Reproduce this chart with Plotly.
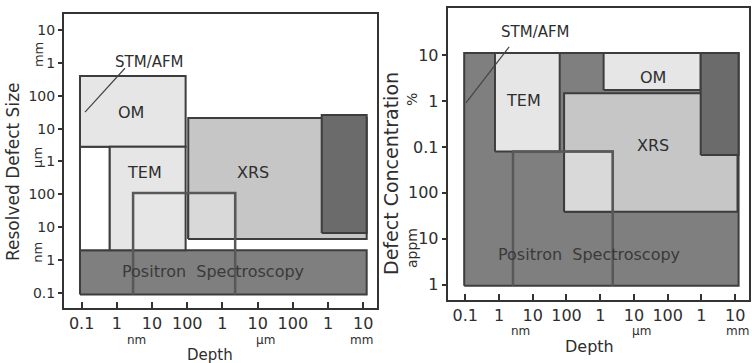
import math
import plotly.graph_objects as go

# ---------------- data ----------------
# Depth axis (m) shared by both panels
depth_tickvals = [1e-10, 1e-9, 1e-8, 1e-7, 1e-6, 1e-5, 1e-4, 1e-3, 1e-2]
depth_ticktext = ["0.1", "1", "10", "100", "1", "10", "100", "1", "10"]
depth_units = ["nm", "\u00b5m", "mm"]

# Left panel: resolved defect size (m)
size_tickvals = [1e-2, 1e-3, 1e-4, 1e-5, 1e-6, 1e-7, 1e-8, 1e-9, 1e-10]
size_ticktext = ["10", "1", "100", "10", "1", "100", "10", "1", "0.1"]
size_units = ["mm", "\u00b5m", "nm"]

left_names = ["Positron", "STM/AFM", "OM", "TEM", "XRS", "XRS-high", "XRS-TEM"]
left_depth_min = [9e-11, 9e-11, 9e-11, 6.3e-10, 1.07e-7, 6.6e-4, 1.07e-7]
left_depth_max = [1.25e-2, 6.3e-10, 9e-8, 9e-8, 1.25e-2, 1.25e-2, 2.3e-6]
left_size_min = [9e-11, 2e-9, 2.8e-6, 2e-9, 4.4e-9, 6.6e-9, 4.4e-9]
left_size_max = [2e-9, 2.8e-6, 4e-4, 2.8e-6, 2.1e-5, 2.6e-5, 1.1e-7]
left_box_depth = [2.9e-9, 2.3e-6]
left_box_size = [9e-11, 1.1e-7]
left_pointer_depth = [1.25e-10, 1.7e-9]
left_pointer_size = [3.2e-5, 6.9e-4]

# Right panel: defect concentration (fraction)
conc_tickvals = [1e-1, 1e-2, 1e-3, 1e-4, 1e-5, 1e-6]
conc_ticktext = ["10", "1", "0.1", "100", "10", "1"]
conc_units = ["%", "appm"]

right_names = ["Positron", "TEM", "OM", "XRS", "XRS-high", "XRS-TEM"]
right_depth_min = [9.3e-11, 7.6e-10, 1.26e-6, 8.5e-8, 9.5e-4, 8.5e-8]
right_depth_max = [1.26e-2, 6.3e-8, 9.5e-4, 1.17e-2, 1.26e-2, 2.35e-6]
right_conc_min = [9.5e-7, 7.9e-4, 0.0174, 3.9e-5, 6.7e-4, 3.9e-5]
right_conc_max = [0.11, 0.11, 0.11, 0.0147, 0.11, 7.9e-4]
right_box_depth = [2.6e-9, 2.35e-6]
right_box_conc = [9.5e-7, 7.9e-4]
right_pointer_depth = [1.05e-10, 2.0e-9]
right_pointer_conc = [9.1e-3, 0.15]

# ---------------- styles ----------------
FILL = {
    "Positron": "#7f7f7f",
    "STM/AFM": "#ffffff",
    "OM": "#e6e6e6",
    "TEM": "#e6e6e6",
    "XRS": "#c6c6c6",
    "XRS-high": "#6b6b6b",
    "XRS-TEM": "#d9d9d9",
}
EDGE = "#3d3d3d"
FONT = "DejaVu Sans"
TXT = "#2e2e2e"

W, H = 752, 363
LX = [64, 377]
LY = [14, 308]
RX = [447.7, 748.7]
RY = [8.3, 300]

fig = go.Figure()


def rect(x0, x1, y0, y1, fill, xa, ya):
    fig.add_trace(go.Scatter(
        x=[x0, x1, x1, x0, x0], y=[y0, y0, y1, y1, y0],
        mode="lines", fill="toself", fillcolor=fill,
        line=dict(color=EDGE, width=2), hoverinfo="skip",
        showlegend=False, xaxis=xa, yaxis=ya))


def open_box(xs, ys, xa, ya):
    fig.add_trace(go.Scatter(
        x=[xs[0], xs[0], xs[1], xs[1]], y=[ys[0], ys[1], ys[1], ys[0]],
        mode="lines", line=dict(color="#585858", width=2.5),
        hoverinfo="skip", showlegend=False, xaxis=xa, yaxis=ya))


def pointer(xs, ys, xa, ya):
    fig.add_trace(go.Scatter(
        x=xs, y=ys, mode="lines", line=dict(color="#444444", width=1.2),
        hoverinfo="skip", showlegend=False, xaxis=xa, yaxis=ya))


for n, a, b, c, d in zip(left_names, left_depth_min, left_depth_max,
                         left_size_min, left_size_max):
    rect(a, b, c, d, FILL[n], "x", "y")
open_box(left_box_depth, left_box_size, "x", "y")
pointer(left_pointer_depth, left_pointer_size, "x", "y")

for n, a, b, c, d in zip(right_names, right_depth_min, right_depth_max,
                         right_conc_min, right_conc_max):
    rect(a, b, c, d, FILL[n], "x2", "y2")
open_box(right_box_depth, right_box_conc, "x2", "y2")
pointer(right_pointer_depth, right_pointer_conc, "x2", "y2")

axis_common = dict(type="log", showgrid=False, zeroline=False, showline=True,
                   mirror=True, linecolor="#333333", linewidth=2,
                   tickfont=dict(family=FONT, size=16, color=TXT),
                   tickmode="array", tickcolor="#333333", tickwidth=1.5)

fig.update_layout(
    width=W, height=H, margin=dict(l=0, r=0, t=0, b=0),
    paper_bgcolor="white", plot_bgcolor="white", showlegend=False,
    xaxis=dict(axis_common, domain=[LX[0] / W, LX[1] / W], anchor="y",
               range=[-10.5, -1.61], tickvals=depth_tickvals,
               ticktext=depth_ticktext, ticks="inside", ticklen=6),
    yaxis=dict(axis_common, domain=[1 - LY[1] / H, 1 - LY[0] / H], anchor="x",
               range=[-10.46, -1.51], tickvals=size_tickvals,
               ticktext=size_ticktext, ticks="outside", ticklen=4,
               tickfont=dict(family=FONT, size=14, color=TXT)),
    xaxis2=dict(axis_common, domain=[RX[0] / W, RX[1] / W], anchor="y2",
                range=[-10.52, -1.60], tickvals=depth_tickvals,
                ticktext=depth_ticktext, ticks="inside", ticklen=6),
    yaxis2=dict(axis_common, domain=[1 - RY[1] / H, 1 - RY[0] / H], anchor="x2",
                range=[-6.33, 0.015], tickvals=conc_tickvals,
                ticktext=conc_ticktext, ticks="outside", ticklen=4),
)

ann = []


def lab(text, x, y, xref, yref, size=16, angle=0, color=TXT):
    ann.append(dict(text=text, x=x, y=y, xref=xref, yref=yref, showarrow=False,
                    textangle=angle, font=dict(family=FONT, size=size, color=color),
                    xanchor="center", yanchor="middle"))


# in-panel labels (log10 coordinates for annotations on log axes)
lab("STM/AFM", -8.06, -2.97, "x", "y", 15)
lab("OM", -8.6, -4.5, "x", "y", 16)
lab("TEM", -8.22, -6.35, "x", "y", 16)
lab("XRS", -5.13, -6.35, "x", "y", 16)
lab("Positron  Spectroscopy", -6.27, -9.36, "x", "y", 16, color="#3a3a3a")

lab("STM/AFM", -7.91, -0.49, "x2", "y2", 15)
lab("TEM", -8.26, -1.98, "x2", "y2", 16)
lab("OM", -4.45, -1.5, "x2", "y2", 16)
lab("XRS", -4.45, -2.96, "x2", "y2", 16)
lab("Positron  Spectroscopy", -6.33, -5.35, "x2", "y2", 16, color="#3a3a3a")

# depth unit labels
for u, lx, rx in zip(depth_units, [-8.44, -4.79, -2.05], [-8.35, -4.79, -1.93]):
    lab(u, lx, 1 - 339.5 / H, "x", "paper", 12)
    lab(u, rx, 1 - 331 / H, "x2", "paper", 12)
lab("Depth", 210 / W, 1 - 355 / H, "paper", "paper", 15)
lab("Depth", 589.3 / W, 1 - 346 / H, "paper", "paper", 16)

# y unit labels
for u, yy in zip(size_units, [-2.76, -5.89, -8.78]):
    lab(u, 38 / W, yy, "paper", "y", 13, angle=-90)
for u, yy in zip(conc_units, [-1.98, -5.2]):
    lab(u, 412 / W, yy, "paper", "y2", 14, angle=-90)

lab("Resolved Defect Size", 13 / W, 1 - 172 / H, "paper", "paper", 17, angle=-90)
lab("Defect Concentration", 391 / W, 1 - 174 / H, "paper", "paper", 19, angle=-90)

fig.update_layout(annotations=ann)
fig.write_html("out.html")
